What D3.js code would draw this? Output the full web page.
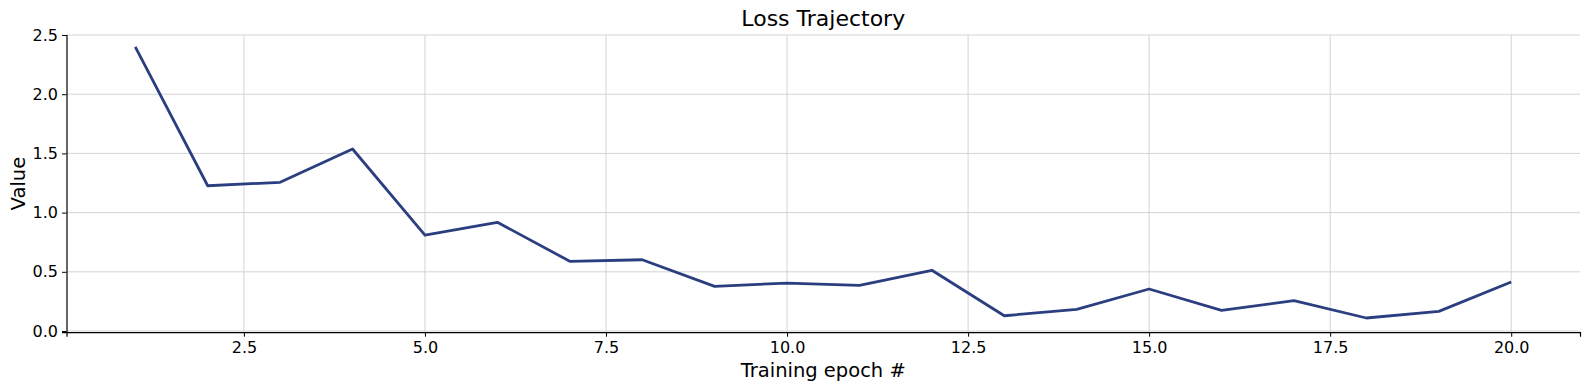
<!DOCTYPE html>
<html>
<head>
<meta charset="utf-8">
<title>Loss Trajectory</title>
<script src="https://cdn.jsdelivr.net/npm/d3@7"></script>
<style>
  body { margin: 0; background: #fff; }
  svg { font-family: "DejaVu Sans", sans-serif; }
  .grid line { stroke: #cfcfcf; stroke-width: 0.9; }
  .axis path, .axis line { stroke: #000; }
  svg g.axis text { font-size: 16px; font-family: "DejaVu Sans", sans-serif; fill: #000; }
</style>
</head>
<body>
<script>
// data
var epochs = [1, 2, 3, 4, 5, 6, 7, 8, 9, 10, 11, 12, 13, 14, 15, 16, 17, 18, 19, 20];
var values = [2.40, 1.227, 1.256, 1.537, 0.81, 0.918, 0.589, 0.602, 0.377, 0.405,
              0.386, 0.513, 0.129, 0.183, 0.355, 0.175, 0.256, 0.11, 0.166, 0.414];
var xTicks = [2.5, 5.0, 7.5, 10.0, 12.5, 15.0, 17.5, 20.0];
var yTicks = [0.0, 0.5, 1.0, 1.5, 2.0, 2.5];

var width = 1590, height = 390;
var margin = {left: 66.5, right: 1580, top: 35, bottom: 332.2};

var svg = d3.select("body").append("svg")
  .attr("width", width)
  .attr("height", height);

var x = d3.scaleLinear().domain([0.05, 20.95]).range([margin.left, margin.right]);
var y = d3.scaleLinear().domain([-0.01, 2.5]).range([margin.bottom, margin.top]);

// grid
svg.append("g").attr("class", "grid")
  .selectAll("line").data(yTicks).enter().append("line")
  .attr("x1", margin.left).attr("x2", margin.right)
  .attr("y1", function(d) { return y(d); })
  .attr("y2", function(d) { return y(d); });

svg.append("g").attr("class", "grid")
  .selectAll("line").data(xTicks).enter().append("line")
  .attr("y1", margin.top).attr("y2", margin.bottom)
  .attr("x1", function(d) { return x(d); })
  .attr("x2", function(d) { return x(d); });

// axes (left and bottom spines only)
var xAxis = svg.append("g").attr("class", "axis")
  .attr("transform", "translate(0," + margin.bottom + ")")
  .call(d3.axisBottom(x).tickValues(xTicks).tickFormat(d3.format(".1f")).tickSizeOuter(0).tickSize(4.5).tickPadding(5));

var yAxis = svg.append("g").attr("class", "axis")
  .attr("transform", "translate(" + margin.left + ",0)")
  .call(d3.axisLeft(y).tickValues(yTicks).tickFormat(d3.format(".1f")).tickSizeOuter(0).tickSize(4.5).tickPadding(4));

svg.selectAll(".axis .domain").attr("stroke-width", 1.2);

// line
var line = d3.line()
  .x(function(d, i) { return x(epochs[i]); })
  .y(function(d) { return y(d); });

svg.append("path")
  .datum(values)
  .attr("d", line)
  .attr("fill", "none")
  .attr("stroke", "#2b3f80")
  .attr("stroke-width", 2.8)
  .attr("stroke-linejoin", "round");

// labels
svg.append("text")
  .attr("x", (margin.left + margin.right) / 2).attr("y", 26)
  .attr("text-anchor", "middle")
  .style("font-size", "22px")
  .text("Loss Trajectory");

svg.append("text")
  .attr("x", (margin.left + margin.right) / 2).attr("y", 377)
  .attr("text-anchor", "middle")
  .style("font-size", "19.5px")
  .text("Training epoch #");

svg.append("text")
  .attr("transform", "translate(25," + ((margin.top + margin.bottom) / 2) + ") rotate(-90)")
  .attr("text-anchor", "middle")
  .style("font-size", "19.5px")
  .text("Value");
</script>
</body>
</html>
